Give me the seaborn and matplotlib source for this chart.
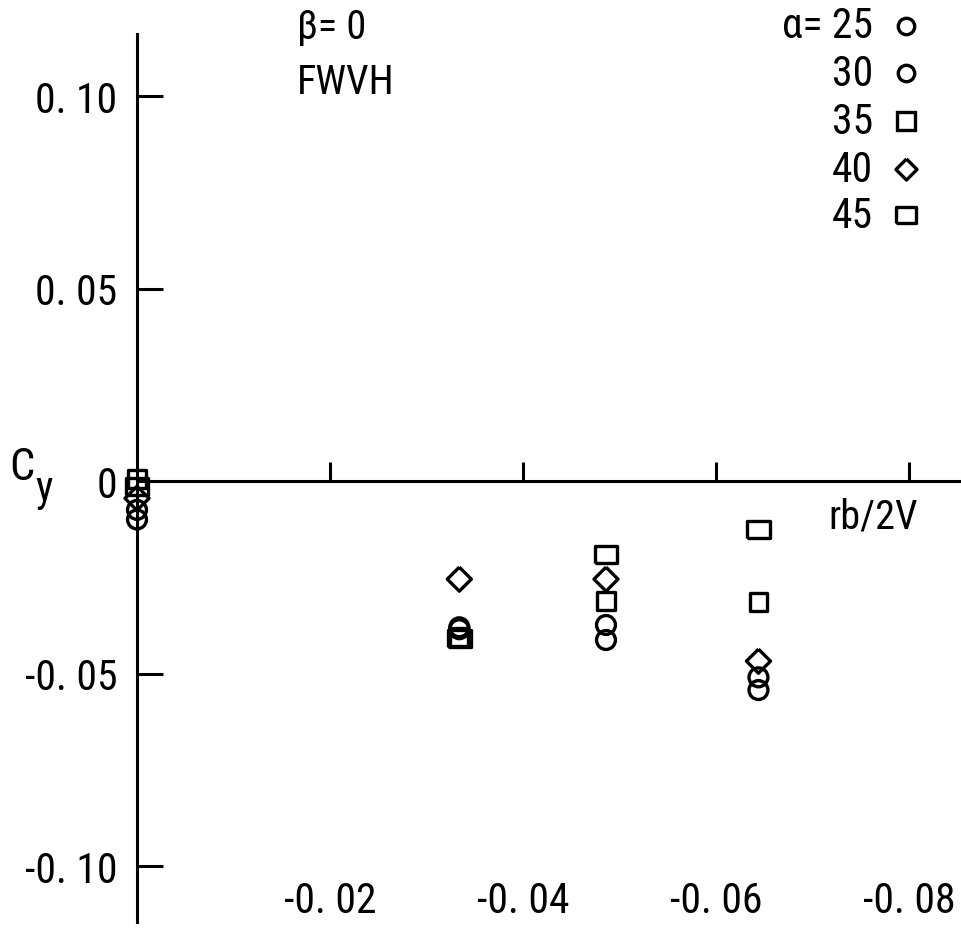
import matplotlib
matplotlib.use("Agg")
import matplotlib.pyplot as plt
from matplotlib.lines import Line2D
import seaborn as sns
import pandas as pd

# data
rb_values = [0.0, -0.0334, -0.0486, -0.0644]
alphas = [25, 30, 35, 40, 45]
cy_a25 = [-0.0100, -0.0385, -0.0413, -0.0543]
cy_a30 = [-0.0075, -0.0380, -0.0374, -0.0510]
cy_a35 = [0.0005, -0.0405, -0.0312, -0.0314]
cy_a40 = [-0.0045, -0.0255, -0.0255, -0.0468]
cy_a45 = [-0.0015, -0.0410, -0.0190, -0.0127]

yticks = [0.10, 0.05, 0.0, -0.05, -0.10]
ytick_labels = ["0. 10", "0. 05", "0", "-0. 05", "-0. 10"]
xticks = [-0.02, -0.04, -0.06, -0.08]
xtick_labels = ["-0. 02", "-0. 04", "-0. 06", "-0. 08"]

legend_labels = ["\u03b1= 25", "30", "35", "40", "45"]

rect = [(-1, -0.75), (1, -0.75), (1, 0.75), (-1, 0.75), (-1, -0.75)]
diamond = [(0, 1), (1, 0), (0, -1), (-1, 0), (0, 1)]
styles = {
    25: dict(marker="o", s=185),
    30: dict(marker="o", s=185),
    35: dict(marker="s", s=165),
    40: dict(marker=diamond, s=300),
    45: dict(marker=rect, s=265),
}
legend_size = {25: 140, 30: 140, 35: 150, 40: 230, 45: 210}

series = [cy_a25, cy_a30, cy_a35, cy_a40, cy_a45]
df = pd.concat([pd.DataFrame({"alpha": a, "rb": rb_values, "cy": cy})
                for a, cy in zip(alphas, series)], ignore_index=True)

sns.set_style("ticks")
plt.rcParams["font.family"] = ["Roboto Condensed", "Liberation Sans Narrow",
                               "DejaVu Sans Condensed", "DejaVu Sans"]
plt.rcParams["font.stretch"] = "condensed"
plt.rcParams["text.color"] = "black"
plt.rcParams["ytick.labelcolor"] = "black"

W, H = 962, 953
fig = plt.figure(figsize=(W / 100, H / 100), dpi=100)
ax = fig.add_axes([0, 0, 1, 1])
ax.set_facecolor("none")

for a in alphas:
    sub = df[df["alpha"] == a]
    sns.scatterplot(data=sub, x="rb", y="cy", ax=ax, facecolor="none",
                    edgecolor="black", linewidth=2.4, legend=False, **styles[a])

ax.set_xlim(137 / 9650, -(W - 137) / 9650)
ax.set_ylim(-(H - 482) / 3850, 482 / 3850)
ax.set_xlabel("")
ax.set_ylabel("")

for s in ["top", "right"]:
    ax.spines[s].set_visible(False)
ax.spines["left"].set_position(("data", 0))
ax.spines["bottom"].set_position(("data", 0))
ax.spines["left"].set_bounds(-0.1145, 0.1161)
ax.spines["bottom"].set_bounds(0, -0.0855)
for s in ["left", "bottom"]:
    ax.spines[s].set_linewidth(2.2)
    ax.spines[s].set_color("black")

ax.set_yticks(yticks, labels=ytick_labels)
ax.tick_params(axis="y", direction="in", length=19, width=2.2, pad=14,
               labelsize=30, color="black", labelcolor="black")
ax.yaxis.get_major_ticks()[2].tick1line.set_visible(False)

ax.set_xticks(xticks)
ax.tick_params(axis="x", direction="in", length=14, width=2.2,
               labelbottom=False, color="black")
for xv, lab in zip(xticks, xtick_labels):
    ax.text(xv, -0.109, lab, ha="center", va="center", fontsize=30)


def px(x, y):
    return x / W, 1 - y / H


fig.text(*px(22, 468), "C", fontsize=32, ha="center", va="center")
fig.text(*px(44, 490), "y", fontsize=30, ha="center", va="center")
fig.text(*px(873, 517), "rb/2V", fontsize=29, ha="center", va="center")
fig.text(*px(297, 28), "\u03b2= 0", fontsize=29, ha="left", va="center")
fig.text(*px(297, 82), "FWVH", fontsize=29, ha="left", va="center")

leg_y = [27, 74, 122, 170, 216]
for a, lab, yy in zip(alphas, legend_labels, leg_y):
    fig.text(*px(873, yy), lab, fontsize=30, ha="right", va="center")
    st = styles[a]
    fig.add_artist(Line2D([906 / W], [1 - yy / H], transform=fig.transFigure,
                          marker=st["marker"], markersize=legend_size[a] ** 0.5,
                          markerfacecolor="none", markeredgecolor="black",
                          markeredgewidth=2.4, linestyle="none"))

fig.savefig("out.png", dpi=100)
